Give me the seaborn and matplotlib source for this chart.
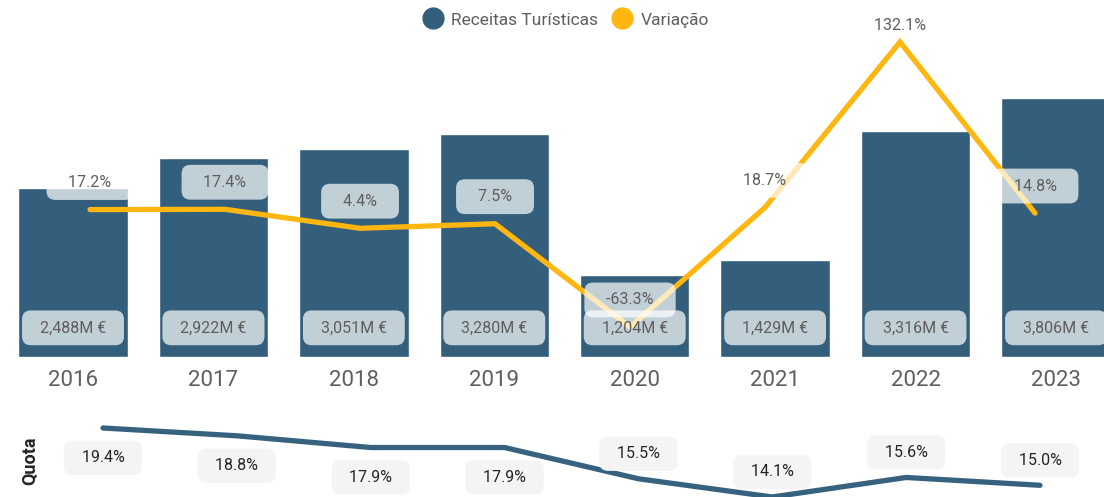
import numpy as np
import pandas as pd
import matplotlib
matplotlib.use("Agg")
import matplotlib.pyplot as plt
from matplotlib.lines import Line2D
import seaborn as sns

sns.set_style("white")
plt.rcParams['font.family'] = ['Roboto', 'DejaVu Sans']

# data
years = ['2016', '2017', '2018', '2019', '2020', '2021', '2022', '2023']
receitas = [2488, 2922, 3051, 3280, 1204, 1429, 3316, 3806]      # M €
variacao = [17.2, 17.4, 4.4, 7.5, -63.3, 18.7, 132.1, 14.8]       # %
quota = [19.4, 18.8, 17.9, 17.9, 15.5, 14.1, 15.6, 15.0]          # %

BAR = '#335f7c'
ORANGE = '#ffb70f'
QUOTA_LINE = '#37627f'
GREY_TXT = '#605e5c'
DARK_TXT = '#252423'

df = pd.DataFrame({'ano': years, 'receitas': receitas,
                   'variacao': variacao, 'quota': quota,
                   'pos': range(len(years))})

W, H = 1104, 497
fig = plt.figure(figsize=(W / 100, H / 100), dpi=100)

# main bar axes (baseline at y=357px)
rect = [0, 1 - 357 / H, 1, 357 / H]
ax = fig.add_axes(rect)
sns.barplot(data=df, x='ano', y='receitas', color=BAR, saturation=1,
            width=0.78, ax=ax)
ax.set_xlim(-0.52, 7.342)
ax.set_ylim(0, 5246)
ax.set_xlabel(None)
ax.set_ylabel(None)
ax.set_yticks([])
ax.tick_params(axis='x', length=0, pad=9, labelsize=16, labelcolor=GREY_TXT)
sns.despine(ax=ax, left=True, bottom=True)

# line overlay (own x scale, like the original)
ax2 = fig.add_axes(rect)
ax2.patch.set_visible(False)
sns.lineplot(data=df, x='pos', y='variacao', color=ORANGE, linewidth=3.8,
             ax=ax2, solid_capstyle='round', solid_joinstyle='miter')
ax2.set_xlim(-0.667, 7.511)
ax2.set_ylim(-83.85, 160.9)
ax2.axis('off')

box_kw = dict(boxstyle='round,pad=0.62,rounding_size=0.55', fc='white',
              ec='none', alpha=0.7)

# variation labels
vmax = max(variacao)
for i, v in enumerate(variacao):
    off = 12 if v == vmax else 19.5
    ax2.annotate(f'   {v:.1f}%   ', (i, v), xytext=(0, off),
                 textcoords='offset points', ha='center', va='center',
                 fontsize=11.5, color=GREY_TXT,
                 bbox=None if v == vmax else box_kw, zorder=5)

# bar value labels (drawn on the overlay so they sit above the line)
for i, r in enumerate(receitas):
    ax2.annotate(f'  {r:,}M €  ', (i, 0), xycoords=ax.transData,
                 xytext=(0, 21), textcoords='offset points',
                 ha='center', va='center', fontsize=11.5, color=GREY_TXT,
                 bbox=box_kw, zorder=5)

# legend
handles = [Line2D([], [], ls='none', marker='o', ms=15, color=BAR),
           Line2D([], [], ls='none', marker='o', ms=15, color=ORANGE)]
fig.legend(handles, ['Receitas Turísticas', 'Variação'], loc='center',
           bbox_to_anchor=(0.509, 1 - 20 / H), ncol=2, frameon=False,
           handletextpad=0.05, columnspacing=0.4, fontsize=12.5,
           labelcolor=GREY_TXT, borderaxespad=0)

# bottom quota strip
ax3 = fig.add_axes([0, 0, 1, 97 / H])
ax3.patch.set_visible(False)
sns.lineplot(data=df, x='pos', y='quota', color=QUOTA_LINE, linewidth=3.8,
             ax=ax3, solid_capstyle='round', clip_on=False)
ax3.set_xlim(-0.7695, 7.478)
ax3.set_ylim(14.1, 14.1 + 97 / 13.02)
ax3.axis('off')

qbox = dict(boxstyle='round,pad=0.6,rounding_size=0.55', fc='#f4f4f4',
            ec='none')
for i, q in enumerate(quota):
    off = -21.5 if i < 4 else 18
    ax3.annotate(f'  {q:.1f}%  ', (i, q), xytext=(0, off),
                 textcoords='offset points', ha='center', va='center',
                 fontsize=11.5, color=DARK_TXT, bbox=qbox, zorder=5,
                 annotation_clip=False)

fig.text(30 / W, 1 - 461 / H, 'Quota', rotation=90, ha='center',
         va='center', fontsize=13, fontweight='bold', color=DARK_TXT)

fig.savefig('out.png', dpi=100)
